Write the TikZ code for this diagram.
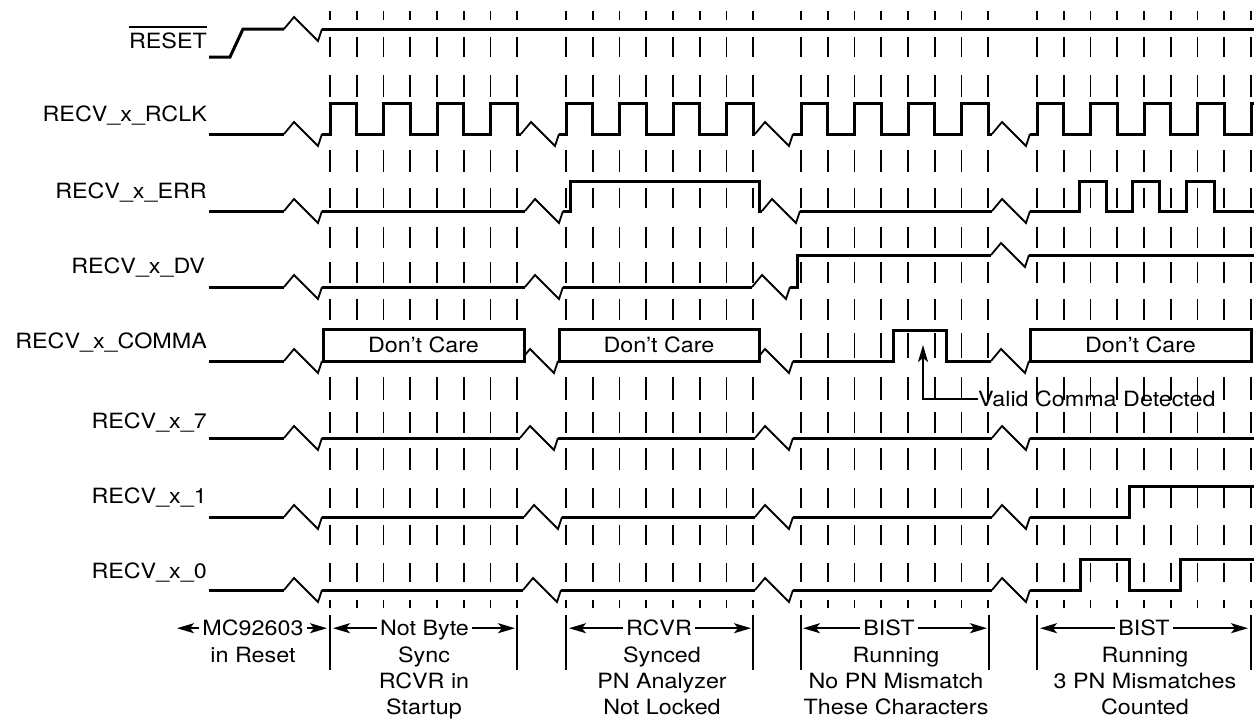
\documentclass[tikz,border=0pt]{standalone}
\usepackage{graphicx}
\usepackage{fontspec}
\setmainfont{TeX Gyre Heros}
\usetikzlibrary{arrows.meta}

% the lettering is a little wider than plain Helvetica
\newcommand{\wide}[1]{\scalebox{1.11}[1]{#1}}
% break in the time axis: #1 = x where the trace goes on, #2 = level
\newcommand{\sigbreak}[2]{%
  \draw[zig] ({#1-38},#2) -- ({#1-28},{#2-12}) -- ({#1-4},{#2+12}) -- (#1,#2);}

\begin{document}
\begin{tikzpicture}[x=1pt, y=-1pt,
    sig/.style={line width=3pt, line join=miter},
    zig/.style={line width=1.8pt, line join=miter},
    tck/.style={line width=1.8pt},
    txt/.style={inner sep=0pt, font=\fontsize{21}{26.3}\selectfont},
    lbl/.style={txt, anchor=base east},
    ttl/.style={txt, anchor=base, inner xsep=3pt, text height=15pt, text depth=0pt},
    dcbox/.style={txt, draw, line width=3pt, fill=white, minimum height=32pt},
    dimarr/.style={line width=1.8pt, -{Stealth[length=17pt, width=10pt, inset=4pt]}},
    ]
    \useasboundingbox (0,0) rectangle (1254,721);

    % dashes
    \foreach \g/\n in {330/7, 566/7, 801/7, 1037/8}
      \foreach \k in {0,...,\n}
        \foreach \a/\b in {11/20, 37/57, 75/97, 150/172, 188/208, 227/248, 262/283, 299/320,
                           333/358, 377/400, 412/433, 448/470, 488/508, 525/545, 563/582, 600/608}
          \draw[tck] ({\g+26.75*\k},\a) -- ({\g+26.75*\k},\b);

    % names
    \node[lbl] (rst)   at (207,48.3)  {\wide{RESET}};
    \node[lbl] (rclk)  at (207,121.7) {\wide{RECV\_x\_RCLK}};
    \node[lbl] (err)   at (207,198.3) {\wide{RECV\_x\_ERR}};
    \node[lbl] (dv)    at (205,273.3) {\wide{RECV\_x\_DV}};
    \node[lbl] (comma) at (207,348.3) {\wide{RECV\_x\_COMMA}};
    \node[lbl] (b7)    at (207,428.3) {\wide{RECV\_x\_7}};
    \node[lbl] (b1)    at (207,503.3) {\wide{RECV\_x\_1}};
    \node[lbl] (b0)    at (207,578.3) {\wide{RECV\_x\_0}};
    \draw[line width=1.7pt] ([yshift=5.5pt]rst.north west) -- ([yshift=5.5pt]rst.north east);

    % RESET
    \draw[sig] (209,57) -- (230,57) -- (243,29) -- (284,29);
    \sigbreak{322}{29}
    \draw[sig] (322,29) -- (1254,29);

    % RCLK
    \draw[sig] (209,134) -- (284,134);
    \sigbreak{322}{134}
    \draw[sig] (322,134) \foreach \k in {0,2,4,6} {-- ({330+26.75*\k},134) -- ({330+26.75*\k},103)
        -- ({356.75+26.75*\k},103) -- ({356.75+26.75*\k},134)} -- (521,134);
    \sigbreak{559}{134}
    \draw[sig] (559,134) \foreach \k in {0,2,4,6} {-- ({566+26.75*\k},134) -- ({566+26.75*\k},103)
        -- ({592.75+26.75*\k},103) -- ({592.75+26.75*\k},134)} -- (755,134);
    \sigbreak{793}{134}
    \draw[sig] (793,134) \foreach \k in {0,2,4,6} {-- ({801+26.75*\k},134) -- ({801+26.75*\k},103)
        -- ({827.75+26.75*\k},103) -- ({827.75+26.75*\k},134)} -- (992,134);
    \sigbreak{1030}{134}
    \draw[sig] (1030,134) \foreach \k in {0,2,4,6} {-- ({1037+26.75*\k},134) -- ({1037+26.75*\k},103)
        -- ({1063.75+26.75*\k},103) -- ({1063.75+26.75*\k},134)} -- (1251,134) -- (1251,103) -- (1254,103);

    % ERR
    \draw[sig] (209,211) -- (284,211);
    \sigbreak{322}{211}
    \draw[sig] (322,211) -- (525,211);
    \sigbreak{563}{211}
    \draw[sig] (563,211) -- (570,211) -- (570,181) -- (759,181) -- (759,211) -- (762,211);
    \sigbreak{800}{211}
    \draw[sig] (800,211) -- (992,211);
    \sigbreak{1030}{211}
    \draw[sig] (1030,211) -- (1079,211) -- (1079,181) -- (1106,181) -- (1106,211) -- (1132,211)
        -- (1132,181) -- (1159,181) -- (1159,211) -- (1186,211) -- (1186,181) -- (1214,181)
        -- (1214,211) -- (1254,211);

    % DV
    \draw[sig] (209,287) -- (284,287);
    \sigbreak{322}{287}
    \draw[sig] (322,287) -- (525,287);
    \sigbreak{563}{287}
    \draw[sig] (563,287) -- (752,287);
    \sigbreak{790}{287}
    \draw[sig] (790,287) -- (797,287) -- (797,255) -- (991,255);
    \sigbreak{1029}{255}
    \draw[sig] (1029,255) -- (1254,255);

    % COMMA
    \draw[sig] (209,361) -- (284,361);
    \sigbreak{322}{361}
    \sigbreak{558}{361}
    \sigbreak{793}{361}
    \draw[sig] (793,361) -- (893,361) -- (893,330) -- (946,330) -- (946,361) -- (991,361);
    \sigbreak{1029}{361}
    \node[dcbox, minimum width=201pt] (dc1) at (423.5,345) {\wide{Don’t Care}};
    \node[dcbox, minimum width=200pt] (dc2) at (659,345)   {\wide{Don’t Care}};
    \node[dcbox, minimum width=221pt] (dc3) at (1140.5,345) {\wide{Don’t Care}};

    % 7
    \draw[sig] (209,438) -- (284,438);
    \sigbreak{322}{438}
    \draw[sig] (322,438) -- (520,438);
    \sigbreak{558}{438}
    \draw[sig] (558,438) -- (755,438);
    \sigbreak{793}{438}
    \draw[sig] (793,438) -- (992,438);
    \sigbreak{1030}{438}
    \draw[sig] (1030,438) -- (1254,438);

    % 1
    \draw[sig] (209,517) -- (284,517);
    \sigbreak{322}{517}
    \draw[sig] (322,517) -- (524,517);
    \sigbreak{562}{517}
    \draw[sig] (562,517) -- (755,517);
    \sigbreak{793}{517}
    \draw[sig] (793,517) -- (992,517);
    \sigbreak{1030}{517}
    \draw[sig] (1030,517) -- (1129,517) -- (1129,486) -- (1254,486);

    % 0
    \draw[sig] (209,590) -- (284,590);
    \sigbreak{322}{590}
    \draw[sig] (322,590) -- (523,590);
    \sigbreak{561}{590}
    \draw[sig] (561,590) -- (755,590);
    \sigbreak{793}{590}
    \draw[sig] (793,590) -- (992,590);
    \sigbreak{1030}{590}
    \draw[sig] (1030,590) -- (1080,590) -- (1080,559) -- (1129,559) -- (1129,590) -- (1180,590)
        -- (1180,559) -- (1254,559);

    % comma note
    \node[txt, anchor=west] (vcd) at (978,399) {\wide{Valid Comma Detected}};
    \coordinate (vct) at (923,345);
    \draw[dimarr] (vcd.west) -| (vct);

    % phases
    \foreach \x in {330, 517, 566, 753, 801, 989, 1037, 1251}
      \draw[zig] (\x,615) -- (\x,670);

    \node[ttl] (t1) at (253,635.7)  {\wide{MC92603}};
    \node[ttl] (t2) at (424.5,635.7) {\wide{Not Byte}};
    \node[ttl] (t3) at (659,635.7)  {\wide{RCVR}};
    \node[ttl] (t4) at (889,635.7)  {\wide{BIST}};
    \node[ttl] (t5) at (1144,635.7) {\wide{BIST}};

    \coordinate (t1l) at (177,628.2);  \coordinate (t1r) at (327,628.2);
    \coordinate (t2l) at (333,628.2);  \coordinate (t2r) at (515,628.2);
    \coordinate (t3l) at (569,628.2);  \coordinate (t3r) at (751,628.2);
    \coordinate (t4l) at (803,628.2);  \coordinate (t4r) at (987,628.2);
    \coordinate (t5l) at (1040,628.2); \coordinate (t5r) at (1248,628.2);
    \foreach \i in {1,...,5} {
      \draw[dimarr] (t\i.west) -- (t\i l);
      \draw[dimarr] (t\i.east) -- (t\i r);
    }

    \node[txt, anchor=base] (t1a) at (253,662) {\wide{in Reset}};
    \foreach \s [count=\i] in {Sync, RCVR in, Startup}
      \node[txt, anchor=base] (t2\i) at (424,{635.7+26.3*\i}) {\wide{\s}};
    \foreach \s [count=\i] in {Synced, PN Analyzer, Not Locked}
      \node[txt, anchor=base] (t3\i) at (662,{635.7+26.3*\i}) {\wide{\s}};
    \foreach \s [count=\i] in {Running, No PN Mismatch, These Characters}
      \node[txt, anchor=base] (t4\i) at (896,{635.7+26.3*\i}) {\wide{\s}};
    \foreach \s [count=\i] in {Running, 3 PN Mismatches, Counted}
      \node[txt, anchor=base] (t5\i) at (1145,{635.7+26.3*\i}) {\wide{\s}};
\end{tikzpicture}
\end{document}
